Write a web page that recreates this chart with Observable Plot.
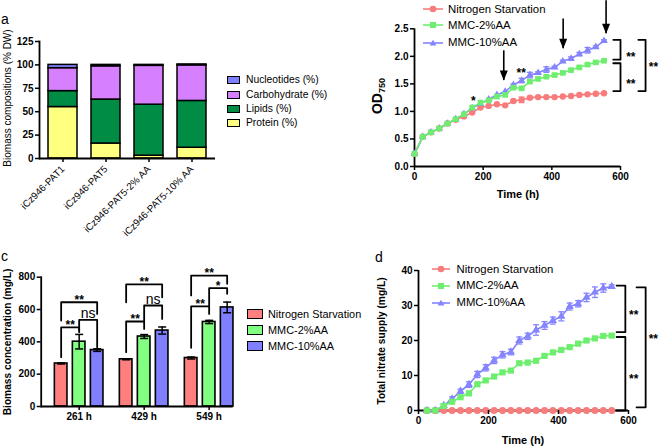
<!DOCTYPE html>
<html><head><meta charset="utf-8">
<script src="https://cdn.jsdelivr.net/npm/d3@7"></script>
<script src="https://cdn.jsdelivr.net/npm/@observablehq/plot@0.6"></script>
<style>
body{margin:0;background:#fff;}
#fig{position:relative;width:658px;height:447px;overflow:hidden;background:#fff;font-family:"Liberation Sans",Arial,Helvetica,sans-serif;color:#000;}
.abs{position:absolute;white-space:nowrap;}
.vlab{position:absolute;transform:translate(-50%,-50%) rotate(-90deg);white-space:nowrap;}
</style></head><body><div id="fig"></div>
<script>
// ---------------- DATA ----------------
// Panel a: biomass composition (% DW)
const compSamples = ["iCz946-PAT1", "iCz946-PAT5", "iCz946-PAT5-2% AA", "iCz946-PAT5-10% AA"];
const compParts = ["Protein (%)", "Lipids (%)", "Carbohydrate (%)", "Nucleotides (%)"];
const protein = [55, 16, 3, 11.5];
const lipids = [17, 47, 54.5, 50];
const carbohydrate = [24.5, 35.5, 41.5, 38];
const nucleotides = [3.5, 1.5, 1, 1];
const compTicks = [0, 25, 50, 75, 100, 125];

// Panel b: OD750 growth
const seriesNames = ["Nitrogen Starvation", "MMC-2%AA", "MMC-10%AA"];
const timeB = [0, 24, 48, 72, 96, 120, 144, 168, 192, 216, 240, 264, 288, 312, 336, 360, 384, 408, 432, 456, 480, 504, 528, 552];
const odNS   = [0.23, 0.54, 0.62, 0.69, 0.78, 0.85, 0.91, 0.98, 1.07, 1.10, 1.13, 1.11, 1.19, 1.21, 1.25, 1.26, 1.26, 1.26, 1.27, 1.28, 1.30, 1.31, 1.32, 1.33];
const odAA2  = [0.23, 0.54, 0.62, 0.69, 0.78, 0.86, 0.95, 1.07, 1.16, 1.20, 1.27, 1.30, 1.43, 1.42, 1.54, 1.59, 1.63, 1.66, 1.70, 1.75, 1.80, 1.85, 1.89, 1.92];
const odAA10 = [0.23, 0.54, 0.62, 0.69, 0.78, 0.86, 0.95, 1.06, 1.14, 1.22, 1.30, 1.36, 1.48, 1.56, 1.66, 1.70, 1.76, 1.80, 1.91, 1.96, 2.04, 2.11, 2.17, 2.28];
const odErrNS   = [0, 0, 0, 0, 0, 0, 0, 0, 0, 0, 0, 0, 0.02, 0.05, 0.02, 0, 0, 0, 0, 0, 0, 0, 0, 0];
const odErrAA2  = [0, 0, 0, 0, 0, 0, 0, 0, 0, 0, 0, 0, 0.02, 0.02, 0.02, 0.02, 0.02, 0.02, 0.02, 0.02, 0.02, 0.02, 0.02, 0.02];
const odErrAA10 = [0, 0, 0, 0, 0, 0, 0, 0, 0, 0, 0, 0, 0.02, 0.04, 0.05, 0.02, 0.05, 0.02, 0.02, 0.03, 0.03, 0.05, 0.02, 0.02];
const odTicks = [0, 0.5, 1, 1.5, 2, 2.5];
const timeTicks = [0, 200, 400, 600];
const odArrows = [{t: 260, from: 2.10, to: 1.56}, {t: 433, from: 2.68, to: 2.14}, {t: 558, from: 3.01, to: 2.41}];
const odStars = [{t: 171, y: 1.24, label: "*"}, {t: 311, y: 1.76, label: "**"}];
const odBrackets = [
  {x: 600, arm: 21, y1: 2.30, y2: 1.94, label: "**", lx: 630, ly: 2.05},
  {x: 600, arm: 21, y1: 1.875, y2: 1.37, label: "**", lx: 630, ly: 1.56},
  {x: 673, arm: 21, y1: 2.30, y2: 1.37, label: "**", lx: 696, ly: 1.86}
];

// Panel c: biomass concentration (mg/L)
const harvestTimes = ["261 h", "429 h", "549 h"];
const biomassNS   = [266, 292, 300];
const biomassAA2  = [401, 433, 523];
const biomassAA10 = [349, 470, 613];
const biomassErrNS   = [3, 3, 6];
const biomassErrAA2  = [45, 12, 10];
const biomassErrAA10 = [8, 22, 33];
const biomassTicks = [0, 200, 400, 600, 800];
const biomassSig = [
  {g: 0, a: 0, b: 1, y: 490, ya: 305, yb: 460, label: "**"},
  {g: 0, a: 1, b: 2, y: 536, ya: 470, yb: 367, label: "ns"},
  {g: 0, a: 0, b: 2, y: 645, ya: 532, yb: 573, label: "**"},
  {g: 1, a: 0, b: 1, y: 526, ya: 336, yb: 480, label: "**"},
  {g: 1, a: 1, b: 2, y: 625, ya: 532, yb: 542, label: "ns"},
  {g: 1, a: 0, b: 2, y: 755, ya: 645, yb: 676, label: "**"},
  {g: 2, a: 0, b: 1, y: 620, ya: 363, yb: 573, label: "**"},
  {g: 2, a: 1, b: 2, y: 732, ya: 625, yb: 697, label: "*"},
  {g: 2, a: 0, b: 2, y: 810, ya: 687, yb: 759, label: "**"}
];

// Panel d: total nitrate supply (mg/L)
const timeD = [24, 48, 72, 96, 120, 144, 168, 192, 216, 240, 264, 288, 312, 336, 360, 384, 408, 432, 456, 480, 504, 528, 552];
const nitNS   = [0, 0, 0, 0, 0, 0, 0, 0, 0, 0, 0, 0, 0, 0, 0, 0, 0, 0, 0, 0, 0, 0, 0];
const nitAA2  = [0, 0, 1.3, 2.5, 3.8, 4.9, 7.5, 8.6, 9.7, 10.9, 11.4, 13.5, 13.7, 14.2, 15.6, 16.6, 17.3, 18.1, 19.1, 20.0, 20.6, 21.3, 21.4];
const nitAA10 = [0, 0, 1.4, 3.3, 5.5, 7.4, 10.3, 12.2, 14.3, 15.9, 16.7, 20.0, 21.2, 23.0, 24.3, 25.7, 26.9, 29.7, 30.5, 32.3, 33.8, 35.0, 35.4];
const nitErrNS   = [0, 0, 0, 0, 0, 0, 0, 0, 0, 0, 0, 0, 0, 0, 0, 0, 0, 0, 0, 0, 0, 0, 0];
const nitErrAA2  = [0, 0, 0.3, 0.3, 0.3, 0.3, 0.4, 0.4, 0.3, 0.3, 0.3, 0.4, 0.3, 0.3, 0.3, 0.3, 0.3, 0.3, 0.3, 0.3, 0.3, 0.3, 0.3];
const nitErrAA10 = [0, 0, 0.5, 0.6, 0.6, 0.8, 0.9, 0.9, 0.9, 0.9, 0.8, 1.0, 0.9, 1.5, 1.1, 1.0, 1.3, 1.0, 0.9, 1.2, 1.5, 1.2, 0.5];
const nitTicks = [0, 10, 20, 30, 40];
const nitBrackets = [
  {x: 591, arm: 25, y1: 35.7, y2: 22.4, label: "**", lx: 615, ly: 28.1},
  {x: 591, arm: 25, y1: 21.0, y2: 0, label: "**", lx: 615, ly: 9.7},
  {x: 649, arm: 26, y1: 35.2, y2: 0.9, label: "**", lx: 671, ly: 21.4}
];

// ---------------- STYLE ----------------
const FONT = '"Liberation Sans", Arial, Helvetica, sans-serif';
const COMP_COLORS = ["#FFFF80", "#008C45", "#D780FF", "#8080FF"];
const SERIES_COLORS = ["#F87C7C", "#6EEE6E", "#8484FF"];
const BAR_COLORS = ["#FF7F7F", "#80FF80", "#7F7FFF"];
const SYMBOLS = ["circle", "square", "triangle"];
const AX = 1.8;
const plotStyle = {fontFamily: FONT, color: "#000", background: "transparent", overflow: "visible"};
const cap = w => ({draw(ctx) { ctx.moveTo(-w, 0); ctx.lineTo(w, 0); }});
const arrowHead = {draw(ctx) { ctx.moveTo(-4, -10); ctx.lineTo(4, -10); ctx.lineTo(0, 0); ctx.closePath(); }};

const fig = document.getElementById("fig");
function put(el, left, top) { el.style.position = "absolute"; el.style.left = left + "px"; el.style.top = top + "px"; fig.appendChild(el); return el; }
function addText(html, left, top, css) { const d = document.createElement("div"); d.className = "abs"; d.innerHTML = html; Object.assign(d.style, css || {}); return put(d, left, top); }
function centerText(html, cx, cy, css) { const d = addText(html, cx, cy, css); d.style.transform = "translate(-50%,-50%)"; return d; }
function vLabel(html, cx, cy, css) { const d = document.createElement("div"); d.className = "vlab"; d.innerHTML = html; Object.assign(d.style, css || {}); d.style.left = cx + "px"; d.style.top = cy + "px"; fig.appendChild(d); return d; }

// ---------------- PANEL A ----------------
const compRows = compSamples.flatMap((s, i) => [protein, lipids, carbohydrate, nucleotides].map((arr, j) => ({sample: s, part: compParts[j], value: arr[i]})));
const pa = Plot.plot({
  width: 230, height: 225, marginLeft: 39, marginRight: 15, marginTop: 41, marginBottom: 67,
  style: plotStyle,
  x: {type: "band", domain: compSamples, paddingInner: 0.33, paddingOuter: 0.21},
  y: {domain: [0, 125]},
  color: {domain: compParts, range: COMP_COLORS},
  marks: [
    Plot.barY(compRows, {x: "sample", y: "value", fill: "part", order: compParts, stroke: "#000", strokeWidth: 1.5}),
    Plot.ruleY([0], {stroke: "#000", strokeWidth: AX}),
    Plot.frame({anchor: "left", stroke: "#000", strokeWidth: AX}),
    Plot.axisY({ticks: compTicks, tickSize: 4, tickPadding: 2, fontSize: 10, fontWeight: "bold", label: null, strokeWidth: 1.5}),
    Plot.axisX({tickSize: 4, tickPadding: 5, tickRotate: -45, fontSize: 9.8, label: null, strokeWidth: 1.5})
  ]
});
put(pa, 0, 0);
vLabel("Biomass compositions (% DW)", 7, 98, {fontSize: "10px"});
addText("a", 1, 12, {fontSize: "14px", lineHeight: "14px"});
["Nucleotides (%)", "Carbohydrate (%)", "Lipids (%)", "Protein (%)"].forEach((p, i) => {
  const cy = 80.3 + i * 14.35;
  const sw = document.createElement("div");
  Object.assign(sw.style, {width: "13px", height: "8px", boxSizing: "border-box", border: "1.5px solid #000", background: COMP_COLORS[compParts.indexOf(p)]});
  put(sw, 227, cy - 4);
  addText(p, 246, cy - 7, {fontSize: "10.3px", lineHeight: "14px"});
});

// ---------------- PANEL B ----------------
const odVals = [odNS, odAA2, odAA10], odErrs = [odErrNS, odErrAA2, odErrAA10];
const odRows = seriesNames.flatMap((s, k) => timeB.map((t, i) => ({series: s, k, t, v: odVals[k][i], e: odErrs[k][i]})));
const bracketPts = (arr) => arr.flatMap((b, i) => [
  {id: i, x: b.x - b.arm, y: b.y1}, {id: i, x: b.x, y: b.y1}, {id: i, x: b.x, y: b.y2}, {id: i, x: b.x - b.arm, y: b.y2}]);
const seriesMarks = (rows, r, lw, capw) => [0, 2, 1].flatMap(k => {
  const d = rows.filter(row => row.k === k);
  const de = d.filter(row => row.e > 0);
  return [
    Plot.ruleX(de, {x: "t", y1: row => row.v - row.e, y2: row => row.v + row.e, stroke: SERIES_COLORS[k], strokeWidth: 1.3}),
    Plot.dot(de, {x: "t", y: row => row.v + row.e, symbol: cap(capw), stroke: SERIES_COLORS[k], fill: "none", strokeWidth: 1.3}),
    Plot.dot(de, {x: "t", y: row => row.v - row.e, symbol: cap(capw), stroke: SERIES_COLORS[k], fill: "none", strokeWidth: 1.3}),
    Plot.line(d, {x: "t", y: "v", stroke: SERIES_COLORS[k], strokeWidth: lw}),
    Plot.dot(d, {x: "t", y: "v", fill: SERIES_COLORS[k], symbol: SYMBOLS[k], r: k === 2 ? r * 0.88 : r})
  ];
});
const pb = Plot.plot({
  width: 328, height: 210, marginLeft: 84, marginRight: 38, marginTop: 28.3, marginBottom: 44,
  style: plotStyle,
  x: {domain: [0, 600]},
  y: {domain: [0, 2.5]},
  marks: [
    Plot.ruleX([0], {stroke: "#000", strokeWidth: AX}),
    Plot.ruleY([0], {stroke: "#000", strokeWidth: AX}),
    ...seriesMarks(odRows, 3.2, 1.6, 3),
    Plot.ruleX(odArrows, {x: "t", y1: "from", y2: "to", stroke: "#000", strokeWidth: 1.6}),
    Plot.dot(odArrows, {x: "t", y: "to", symbol: arrowHead, fill: "#000", stroke: "none"}),
    Plot.line(bracketPts(odBrackets), {x: "x", y: "y", z: "id", stroke: "#000", strokeWidth: AX}),
    Plot.text(odBrackets, {x: "lx", y: "ly", text: "label", fontSize: 12, fontWeight: "bold", lineAnchor: "middle", dy: 3.1}),
    Plot.text(odStars, {x: "t", y: "y", text: "label", fontSize: 12, fontWeight: "bold", lineAnchor: "middle", dy: 3.1}),
    Plot.axisX({ticks: timeTicks, tickSize: 4, tickPadding: 2, fontSize: 10, fontWeight: "bold", label: null, strokeWidth: 1.5}),
    Plot.axisY({ticks: odTicks, tickFormat: d3.format(".1f"), tickSize: 4, tickPadding: 2, fontSize: 10, fontWeight: "bold", label: null, strokeWidth: 1.5})
  ]
});
put(pb, 330, 0);
vLabel('OD<sub style="font-size:9px;vertical-align:-3px">750</sub>', 378, 96, {fontSize: "14px", fontWeight: "bold"});
centerText("Time (h)", 518, 194, {fontSize: "11px", fontWeight: "bold"});

function lineLegend(x0, x1, tx, ys, fs) {
  const w = x1 - x0, m = w / 2;
  seriesNames.forEach((s, k) => {
    const c = SERIES_COLORS[k];
    const marker = k === 0 ? `<circle cx="${m}" cy="5" r="3.3" fill="${c}"/>`
      : k === 1 ? `<rect x="${m - 3}" y="2" width="6" height="6" fill="${c}"/>`
      : `<path d="M${m},1.8L${m + 3.4},7.6L${m - 3.4},7.6Z" fill="${c}"/>`;
    const d = document.createElement("div");
    d.innerHTML = `<svg width="${w}" height="10" style="display:block;overflow:visible"><line x1="0" y1="5" x2="${w}" y2="5" stroke="${c}" stroke-width="1.6"/>${marker}</svg>`;
    put(d, x0, ys[k] - 5);
    addText(s, tx, ys[k] - 7.5, {fontSize: fs + "px", lineHeight: "15px"});
  });
}
lineLegend(423, 443, 448, [9.3, 25, 42.5], 11.4);

// ---------------- PANEL C ----------------
const OFF = [-0.277, 0, 0.277], HW = 0.097;
const bioVals = [biomassNS, biomassAA2, biomassAA10], bioErrs = [biomassErrNS, biomassErrAA2, biomassErrAA10];
const bioRows = seriesNames.flatMap((s, k) => harvestTimes.map((h, g) => ({series: s, k, g, v: bioVals[k][g], e: bioErrs[k][g]})));
const sigPts = biomassSig.flatMap((b, i) => [
  {id: i, x: b.g + OFF[b.a], y: b.ya}, {id: i, x: b.g + OFF[b.a], y: b.y},
  {id: i, x: b.g + OFF[b.b], y: b.y}, {id: i, x: b.g + OFF[b.b], y: b.yb}]);
const sigMid = b => b.g + (OFF[b.a] + OFF[b.b]) / 2;
const pc = Plot.plot({
  width: 240, height: 222, marginLeft: 40.7, marginRight: 7.3, marginTop: 51.7, marginBottom: 41,
  style: plotStyle,
  x: {domain: [-0.584, 2.37]},
  y: {domain: [0, 800]},
  color: {domain: seriesNames, range: BAR_COLORS},
  marks: [
    Plot.rect(bioRows, {x1: d => d.g + OFF[d.k] - HW, x2: d => d.g + OFF[d.k] + HW, y1: d => 0, y2: "v", fill: "series", stroke: "#000", strokeWidth: 1.6}),
    Plot.ruleX(bioRows, {x: d => d.g + OFF[d.k], y1: d => d.v - d.e, y2: d => d.v + d.e, stroke: "#000", strokeWidth: 1.5}),
    Plot.dot(bioRows, {x: d => d.g + OFF[d.k], y: d => d.v + d.e, symbol: cap(4), stroke: "#000", fill: "none", strokeWidth: 1.5}),
    Plot.dot(bioRows, {x: d => d.g + OFF[d.k], y: d => d.v - d.e, symbol: cap(4), stroke: "#000", fill: "none", strokeWidth: 1.5}),
    Plot.ruleY([0], {stroke: "#000", strokeWidth: AX}),
    Plot.frame({anchor: "left", stroke: "#000", strokeWidth: AX}),
    Plot.line(sigPts, {x: "x", y: "y", z: "id", stroke: "#000", strokeWidth: AX}),
    Plot.text(biomassSig.filter(b => b.label !== "ns"), {x: sigMid, y: "y", text: "label", fontSize: 12, fontWeight: "bold", lineAnchor: "middle", dy: -2}),
    Plot.text(biomassSig.filter(b => b.label === "ns"), {x: sigMid, y: "y", text: "label", fontSize: 14, lineAnchor: "middle", dy: -6}),
    Plot.axisX({ticks: [0, 1, 2], tickFormat: i => harvestTimes[i], tickSize: 4, tickPadding: 2, fontSize: 10, fontWeight: "bold", label: null, strokeWidth: 1.5}),
    Plot.axisY({ticks: biomassTicks, tickSize: 4, tickPadding: 2, fontSize: 10, fontWeight: "bold", label: null, strokeWidth: 1.5})
  ]
});
put(pc, 0, 225);
vLabel("Biomass concentration (mg/L)", 6.5, 342, {fontSize: "10.2px", fontWeight: "bold"});
addText("c", 1, 248.5, {fontSize: "14px", lineHeight: "14px"});
seriesNames.forEach((s, k) => {
  const cy = 314 + k * 16;
  const sw = document.createElement("div");
  Object.assign(sw.style, {width: "16px", height: "9.5px", boxSizing: "border-box", border: "1.6px solid #000", background: BAR_COLORS[k]});
  put(sw, 247, cy - 4.75);
  addText(s, 268, cy - 7.5, {fontSize: "10.9px", lineHeight: "15px"});
});

// ---------------- PANEL D ----------------
const nitVals = [nitNS, nitAA2, nitAA10], nitErrs = [nitErrNS, nitErrAA2, nitErrAA10];
const nitRows = seriesNames.flatMap((s, k) => timeD.map((t, i) => ({series: s, k, t, v: nitVals[k][i], e: nitErrs[k][i]})));
const pd = Plot.plot({
  width: 328, height: 227, marginLeft: 88, marginRight: 30, marginTop: 50, marginBottom: 37,
  style: plotStyle,
  x: {domain: [0, 600]},
  y: {domain: [0, 40]},
  marks: [
    Plot.ruleX([0], {stroke: "#000", strokeWidth: AX}),
    Plot.ruleY([0], {stroke: "#000", strokeWidth: AX}),
    ...seriesMarks(nitRows, 3.5, 1.6, 3),
    Plot.line(bracketPts(nitBrackets), {x: "x", y: "y", z: "id", stroke: "#000", strokeWidth: AX}),
    Plot.text(nitBrackets, {x: "lx", y: "ly", text: "label", fontSize: 12, fontWeight: "bold", lineAnchor: "middle", dy: 3.1}),
    Plot.axisX({ticks: timeTicks, tickSize: 4, tickPadding: 2, fontSize: 10, fontWeight: "bold", label: null, strokeWidth: 1.5}),
    Plot.axisY({ticks: nitTicks, tickSize: 4, tickPadding: 2, fontSize: 10, fontWeight: "bold", label: null, strokeWidth: 1.5})
  ]
});
put(pd, 330, 220);
vLabel("Total nitrate supply (mg/L)", 381, 341, {fontSize: "10.2px", fontWeight: "bold"});
centerText("Time (h)", 523, 440, {fontSize: "11px", fontWeight: "bold"});
addText("d", 375, 249.5, {fontSize: "14px", lineHeight: "14px"});
lineLegend(432, 450, 456.5, [269, 285.7, 302.7], 11.3);
</script></body></html>
